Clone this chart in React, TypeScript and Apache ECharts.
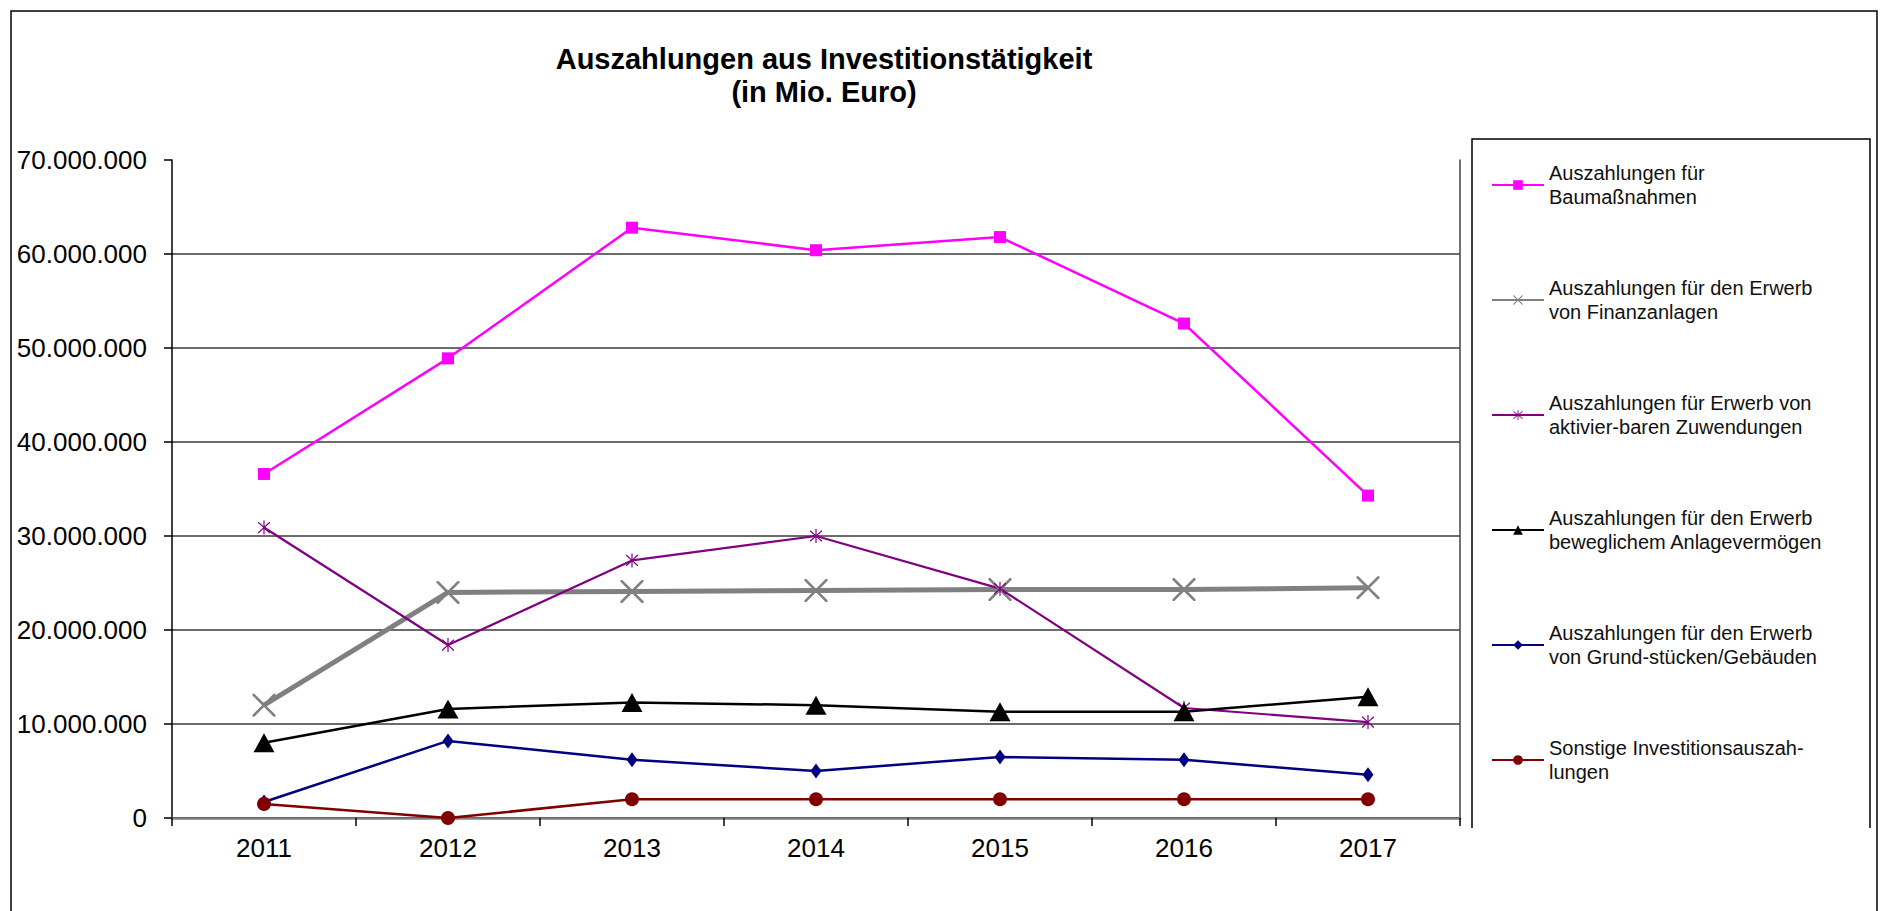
import React, { useEffect, useRef } from "react";
import * as echarts from "echarts";

const years = ["2011", "2012", "2013", "2014", "2015", "2016", "2017"];

const seriesNames = [
  "Auszahlungen für\nBaumaßnahmen",
  "Auszahlungen für den Erwerb\nvon Finanzanlagen",
  "Auszahlungen für Erwerb von\naktivier-baren Zuwendungen",
  "Auszahlungen für den Erwerb\nbeweglichem Anlagevermögen",
  "Auszahlungen für den Erwerb\nvon Grund-stücken/Gebäuden",
  "Sonstige Investitionsauszah-\nlungen",
];

const baumassnahmen = [36600000, 48900000, 62800000, 60400000, 61800000, 52600000, 34300000];
const finanzanlagen = [12000000, 24000000, 24100000, 24200000, 24300000, 24300000, 24500000];
const zuwendungen = [30900000, 18400000, 27400000, 30000000, 24400000, 11700000, 10200000];
const anlagevermoegen = [8000000, 11600000, 12300000, 12000000, 11300000, 11300000, 12900000];
const grundstuecke = [1700000, 8200000, 6200000, 5000000, 6500000, 6200000, 4600000];
const sonstige = [1500000, 0, 2000000, 2000000, 2000000, 2000000, 2000000];

const yTicks = { min: 0, max: 70000000, interval: 10000000 };

const titleLines = ["Auszahlungen aus Investitionstätigkeit", "(in Mio. Euro)"];

const FONT = '"Liberation Sans", Arial, Helvetica, sans-serif';

const X_PATH =
  "path://M0,0L1.6,0L10,8.4L18.4,0L20,0L20,1.6L11.6,10L20,18.4L20,20L18.4,20L10,11.6L1.6,20L0,20L0,18.4L8.4,10L0,1.6Z";
const STAR_PATH =
  "path://M0,2L1.4,2L10,9L18.6,2L20,2L20,3.4L11.4,10L20,16.6L20,18L18.6,18L10,11L1.4,18L0,18L0,16.6L8.6,10L0,3.4ZM9,0L11,0L11,20L9,20Z";

function fmt(v: number): string {
  return String(v).replace(/\B(?=(\d{3})+(?!\d))/g, ".");
}

export default function App() {
  const ref = useRef<HTMLDivElement>(null);

  useEffect(() => {
    if (!ref.current) return;
    const chart = echarts.init(ref.current, null, { renderer: "svg" });

    const mk = (
      name: string,
      data: number[],
      color: string,
      width: number,
      symbol: string,
      size: number | number[]
    ) => ({
      name,
      type: "line",
      data,
      symbol,
      symbolSize: size,
      showSymbol: true,
      showAllSymbol: true,
      lineStyle: { color, width },
      itemStyle: { color, borderWidth: 0 },
      emphasis: { disabled: true },
      z: 3,
    });

    chart.setOption({
      animation: false,
      backgroundColor: "#ffffff",
      textStyle: { fontFamily: FONT },
      grid: { left: 172, top: 160, width: 1288, height: 658, containLabel: false },
      legend: {
        orient: "vertical",
        left: 1491,
        top: 149,
        padding: 0,
        itemWidth: 52,
        itemHeight: 12,
        itemGap: 43,
        selectedMode: false,
        data: seriesNames,
        textStyle: {
          fontFamily: FONT,
          fontSize: 20,
          lineHeight: 24,
          color: "#111",
          padding: [24, 0, 0, 0],
        },
      },
      xAxis: [
        {
          type: "category",
          data: years,
          boundaryGap: true,
          axisLine: { show: true, lineStyle: { color: "#000", width: 1.5 } },
          axisTick: { show: true, inside: false, length: 8, lineStyle: { color: "#000", width: 1.5 } },
          axisLabel: { show: true, fontFamily: FONT, fontSize: 26, color: "#000", margin: 17 },
          splitLine: { show: false },
        },
        {
          type: "category",
          data: years,
          position: "top",
          boundaryGap: true,
          axisLine: { show: true, lineStyle: { color: "#808080", width: 2.5 } },
          axisTick: { show: false },
          axisLabel: { show: false },
          splitLine: { show: false },
        },
      ],
      yAxis: [
        {
          type: "value",
          min: yTicks.min,
          max: yTicks.max,
          interval: yTicks.interval,
          axisLine: { show: true, lineStyle: { color: "#000", width: 1.5 } },
          axisTick: { show: true, inside: false, length: 8, lineStyle: { color: "#000", width: 1.5 } },
          axisLabel: {
            show: true,
            fontFamily: FONT,
            fontSize: 26,
            color: "#000",
            margin: 25,
            formatter: (v: number) => fmt(v),
          },
          splitLine: { show: true, showMaxLine: false, lineStyle: { color: "#3a3a3a", width: 1.5 } },
        },
        {
          type: "value",
          position: "right",
          min: yTicks.min,
          max: yTicks.max,
          interval: yTicks.interval,
          axisLine: { show: true, lineStyle: { color: "#444", width: 1.5 } },
          axisTick: { show: false },
          axisLabel: { show: false },
          splitLine: { show: false },
        },
      ],
      series: [
        mk(seriesNames[0], baumassnahmen, "#ff00ff", 2.5, "rect", 12),
        mk(seriesNames[1], finanzanlagen, "#808080", 5, X_PATH, 23),
        mk(seriesNames[2], zuwendungen, "#800080", 2.2, STAR_PATH, [12, 14]),
        mk(seriesNames[3], anlagevermoegen, "#000000", 2.5, "triangle", [21, 19]),
        mk(seriesNames[4], grundstuecke, "#000080", 2.5, "diamond", [11, 15]),
        mk(seriesNames[5], sonstige, "#800000", 2.5, "circle", 14),
      ],
      graphic: [
        {
          type: "rect",
          silent: true,
          shape: { x: 11, y: 11, width: 1866, height: 960 },
          style: { fill: "none", stroke: "#000", lineWidth: 1.5 },
          z: 0,
        },
        {
          type: "polyline",
          silent: true,
          shape: {
            points: [
              [1472, 828],
              [1472, 139],
              [1870, 139],
              [1870, 828],
            ],
          },
          style: { fill: "none", stroke: "#000", lineWidth: 1.5 },
        },
        {
          type: "text",
          silent: true,
          x: 824,
          y: 59,
          style: {
            text: titleLines[0],
            font: `bold 29px ${FONT}`,
            align: "center",
            verticalAlign: "middle",
            fill: "#000",
          },
        },
        {
          type: "text",
          silent: true,
          x: 824,
          y: 92,
          style: {
            text: titleLines[1],
            font: `bold 29px ${FONT}`,
            align: "center",
            verticalAlign: "middle",
            fill: "#000",
          },
        },
      ],
    });

    return () => chart.dispose();
  }, []);

  return (
    <div
      ref={ref}
      style={{ position: "absolute", left: 0, top: 0, width: 1880, height: 911, background: "#fff" }}
    />
  );
}
